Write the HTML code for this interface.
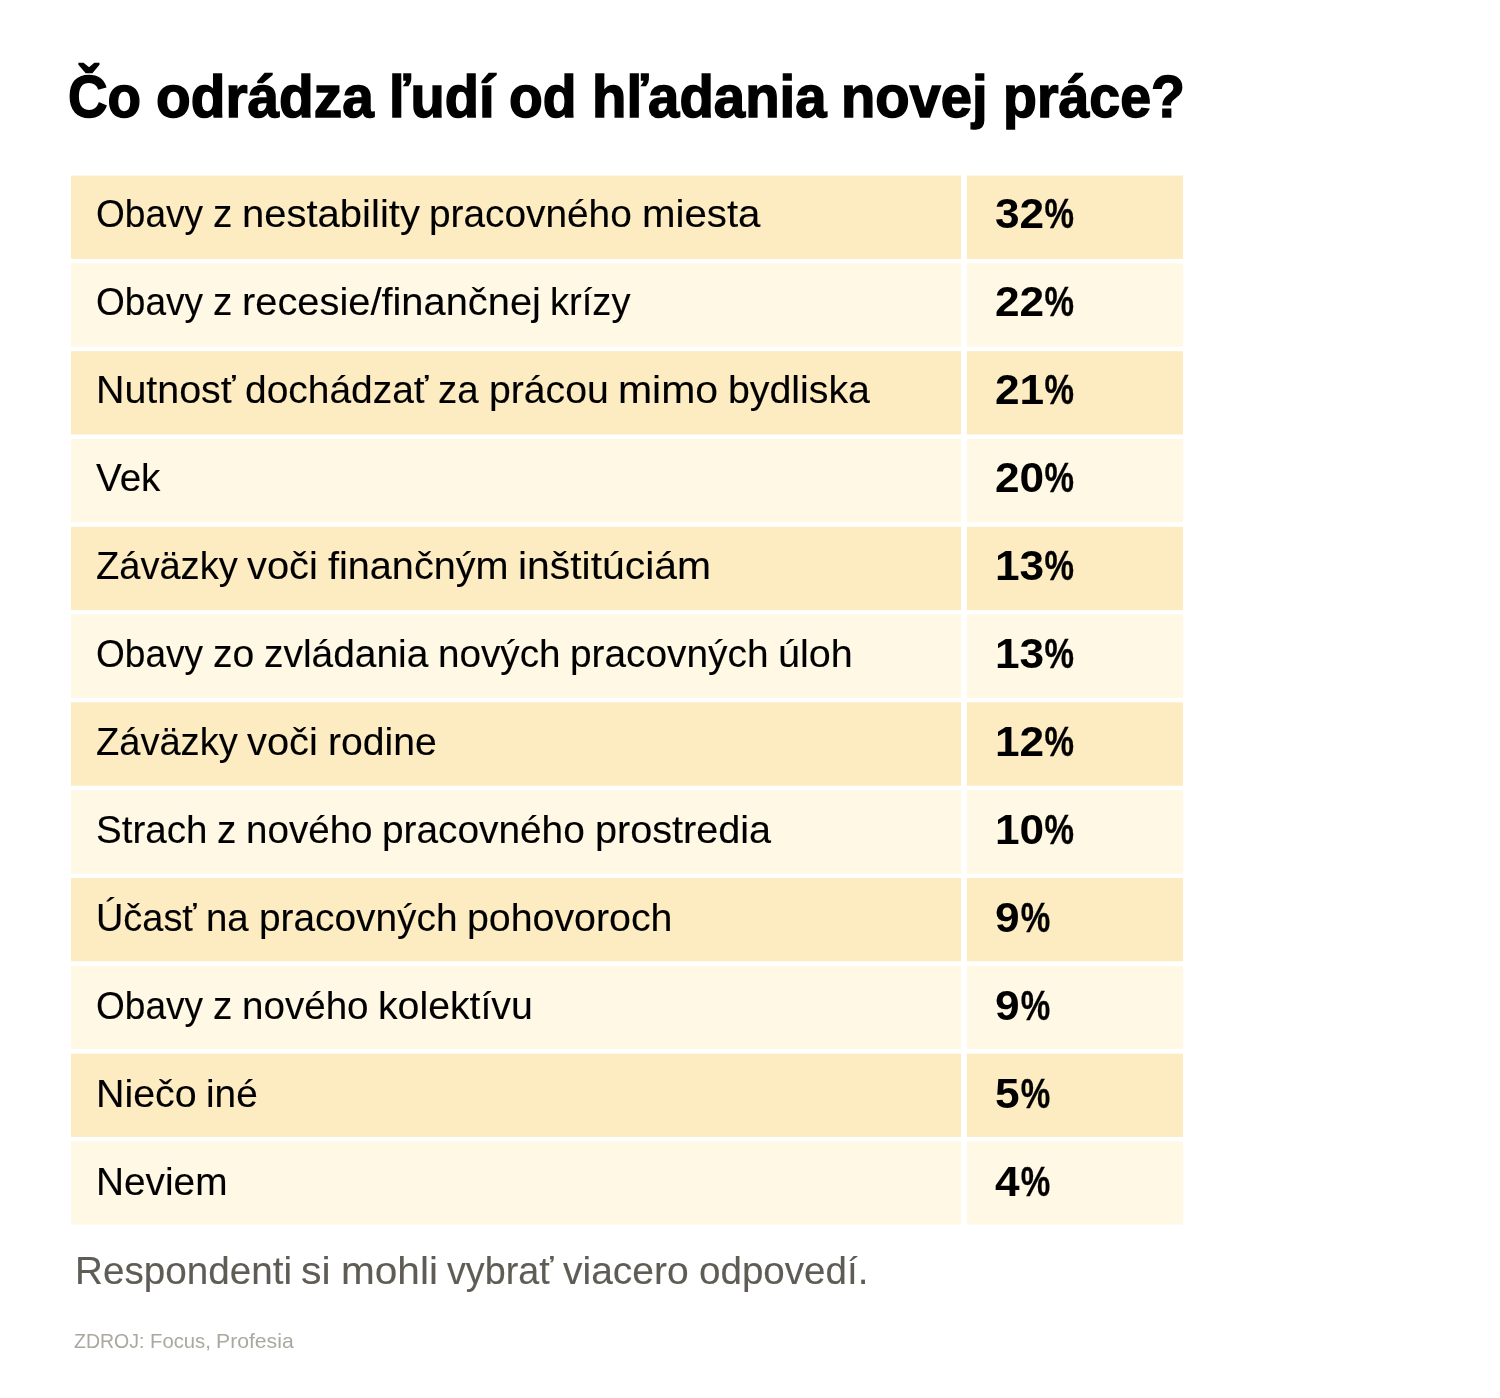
<!DOCTYPE html>
<html lang="sk">
<head>
<meta charset="utf-8">
<title>Čo odrádza ľudí od hľadania novej práce?</title>
<style>
html,body{margin:0;padding:0;background:#fff;}
body{width:1500px;height:1398px;position:relative;overflow:hidden;font-family:"Liberation Sans", Arial, Helvetica, sans-serif;color:#000;}
.t{position:absolute;white-space:nowrap;transform-origin:0 50%;margin:0;}
.bg{position:absolute;left:0;top:0;}
h1.t{font-weight:700;-webkit-text-stroke:1.5px #000;}
.lab{font-weight:400;-webkit-text-stroke:0.12px #000;}
.val{font-weight:700;}
.w{position:absolute;top:0;transform-origin:0 50%;white-space:nowrap;}
.pc{display:inline-block;transform-origin:0 50%;-webkit-text-stroke:0.35px #000;}
.note{color:#5f5c55;-webkit-text-stroke:0.12px #5f5c55;}
.src{color:#aaa89f;}

</style>
</head>
<body>
<h1 class="t " style="left:68px;top:37.11px;font-size:60px;line-height:120px;height:120px;"><span class="w" style="left:0px;transform:scaleX(0.9139)">Čo</span> <span class="w" style="left:88.04px;transform:scaleX(0.9465)">odrádza</span> <span class="w" style="left:320.71px;transform:scaleX(0.9339)">ľudí</span> <span class="w" style="left:441.27px;transform:scaleX(0.9205)">od</span> <span class="w" style="left:523.68px;transform:scaleX(0.9386)">hľadania</span> <span class="w" style="left:773.12px;transform:scaleX(0.9361)">novej</span> <span class="w" style="left:934.75px;transform:scaleX(0.925)">práce?</span></h1>
<svg class="bg" width="1500" height="1398" viewBox="0 0 1500 1398" aria-hidden="true">
<rect x="71" y="175.60" width="890.00" height="83.3" fill="#fdecc1"/><rect x="966.8" y="175.60" width="216.20" height="83.3" fill="#fdecc1"/>
<rect x="71" y="263.40" width="890.00" height="83.3" fill="#fff8e5"/><rect x="966.8" y="263.40" width="216.20" height="83.3" fill="#fff8e5"/>
<rect x="71" y="351.20" width="890.00" height="83.3" fill="#fdecc1"/><rect x="966.8" y="351.20" width="216.20" height="83.3" fill="#fdecc1"/>
<rect x="71" y="439.00" width="890.00" height="83.3" fill="#fff8e5"/><rect x="966.8" y="439.00" width="216.20" height="83.3" fill="#fff8e5"/>
<rect x="71" y="526.80" width="890.00" height="83.3" fill="#fdecc1"/><rect x="966.8" y="526.80" width="216.20" height="83.3" fill="#fdecc1"/>
<rect x="71" y="614.60" width="890.00" height="83.3" fill="#fff8e5"/><rect x="966.8" y="614.60" width="216.20" height="83.3" fill="#fff8e5"/>
<rect x="71" y="702.40" width="890.00" height="83.3" fill="#fdecc1"/><rect x="966.8" y="702.40" width="216.20" height="83.3" fill="#fdecc1"/>
<rect x="71" y="790.20" width="890.00" height="83.3" fill="#fff8e5"/><rect x="966.8" y="790.20" width="216.20" height="83.3" fill="#fff8e5"/>
<rect x="71" y="878.00" width="890.00" height="83.3" fill="#fdecc1"/><rect x="966.8" y="878.00" width="216.20" height="83.3" fill="#fdecc1"/>
<rect x="71" y="965.80" width="890.00" height="83.3" fill="#fff8e5"/><rect x="966.8" y="965.80" width="216.20" height="83.3" fill="#fff8e5"/>
<rect x="71" y="1053.60" width="890.00" height="83.3" fill="#fdecc1"/><rect x="966.8" y="1053.60" width="216.20" height="83.3" fill="#fdecc1"/>
<rect x="71" y="1141.40" width="890.00" height="83.3" fill="#fff8e5"/><rect x="966.8" y="1141.40" width="216.20" height="83.3" fill="#fff8e5"/>
</svg>
<div role="table" aria-label="Čo odrádza ľudí od hľadania novej práce?">
<div role="row">
<div class="t lab" role="cell" style="left:96px;top:174.06px;font-size:39.5px;line-height:79.0px;height:79.0px;"><span class="w" style="left:0px;transform:scaleX(0.9373)">Obavy</span> <span class="w" style="left:116.68px;transform:scaleX(0.9796)">z</span> <span class="w" style="left:145.7px;transform:scaleX(1.0127)">nestability</span> <span class="w" style="left:333.25px;transform:scaleX(0.9823)">pracovného</span> <span class="w" style="left:545.7px;transform:scaleX(1.0183)">miesta</span></div>
<div class="t val" role="cell" style="left:995.0px;top:170.25px;font-size:43px;line-height:86px;transform:scaleX(1.0287);">32<span class="pc" style="transform:scaleX(0.75);margin-left:0.02px;">%</span></div>
</div>
<div role="row">
<div class="t lab" role="cell" style="left:96px;top:262.06px;font-size:39.5px;line-height:79.0px;height:79.0px;"><span class="w" style="left:0px;transform:scaleX(0.9373)">Obavy</span> <span class="w" style="left:116.68px;transform:scaleX(0.9796)">z</span> <span class="w" style="left:145.7px;transform:scaleX(1.0083)">recesie/finančnej</span> <span class="w" style="left:454.25px;transform:scaleX(0.9647)">krízy</span></div>
<div class="t val" role="cell" style="left:995.0px;top:258.25px;font-size:43px;line-height:86px;transform:scaleX(1.0287);">22<span class="pc" style="transform:scaleX(0.75);margin-left:0.02px;">%</span></div>
</div>
<div role="row">
<div class="t lab" role="cell" style="left:96px;top:350.06px;font-size:39.5px;line-height:79.0px;height:79.0px;"><span class="w" style="left:0px;transform:scaleX(0.9967)">Nutnosť</span> <span class="w" style="left:149.18px;transform:scaleX(0.9855)">dochádzať</span> <span class="w" style="left:342.28px;transform:scaleX(0.9723)">za</span> <span class="w" style="left:392.51px;transform:scaleX(0.9913)">prácou</span> <span class="w" style="left:521.91px;transform:scaleX(1.037)">mimo</span> <span class="w" style="left:631.71px;transform:scaleX(0.9948)">bydliska</span></div>
<div class="t val" role="cell" style="left:995.0px;top:346.25px;font-size:43px;line-height:86px;transform:scaleX(1.0287);">21<span class="pc" style="transform:scaleX(0.75);margin-left:0.02px;">%</span></div>
</div>
<div role="row">
<div class="t lab" role="cell" style="left:96px;top:438.06px;font-size:39.5px;line-height:79.0px;height:79.0px;"><span class="w" style="left:0px;transform:scaleX(0.9781)">Vek</span></div>
<div class="t val" role="cell" style="left:995.0px;top:434.25px;font-size:43px;line-height:86px;transform:scaleX(1.0287);">20<span class="pc" style="transform:scaleX(0.75);margin-left:0.02px;">%</span></div>
</div>
<div role="row">
<div class="t lab" role="cell" style="left:96px;top:526.06px;font-size:39.5px;line-height:79.0px;height:79.0px;"><span class="w" style="left:0px;transform:scaleX(0.9634)">Záväzky</span> <span class="w" style="left:151.35px;transform:scaleX(1.0071)">voči</span> <span class="w" style="left:231.77px;transform:scaleX(1.0027)">finančným</span> <span class="w" style="left:421.95px;transform:scaleX(1.0342)">inštitúciám</span></div>
<div class="t val" role="cell" style="left:995.0px;top:522.25px;font-size:43px;line-height:86px;transform:scaleX(1.0287);">13<span class="pc" style="transform:scaleX(0.75);margin-left:0.02px;">%</span></div>
</div>
<div role="row">
<div class="t lab" role="cell" style="left:96px;top:614.06px;font-size:39.5px;line-height:79.0px;height:79.0px;"><span class="w" style="left:0px;transform:scaleX(0.9373)">Obavy</span> <span class="w" style="left:116.68px;transform:scaleX(0.9896)">zo</span> <span class="w" style="left:167.64px;transform:scaleX(0.9849)">zvládania</span> <span class="w" style="left:341.69px;transform:scaleX(0.9787)">nových</span> <span class="w" style="left:473.85px;transform:scaleX(0.9825)">pracovných</span> <span class="w" style="left:681.99px;transform:scaleX(1.0003)">úloh</span></div>
<div class="t val" role="cell" style="left:995.0px;top:610.25px;font-size:43px;line-height:86px;transform:scaleX(1.0287);">13<span class="pc" style="transform:scaleX(0.75);margin-left:0.02px;">%</span></div>
</div>
<div role="row">
<div class="t lab" role="cell" style="left:96px;top:702.06px;font-size:39.5px;line-height:79.0px;height:79.0px;"><span class="w" style="left:0px;transform:scaleX(0.9634)">Záväzky</span> <span class="w" style="left:151.35px;transform:scaleX(1.0071)">voči</span> <span class="w" style="left:231.77px;transform:scaleX(0.9906)">rodine</span></div>
<div class="t val" role="cell" style="left:995.0px;top:698.25px;font-size:43px;line-height:86px;transform:scaleX(1.0287);">12<span class="pc" style="transform:scaleX(0.75);margin-left:0.02px;">%</span></div>
</div>
<div role="row">
<div class="t lab" role="cell" style="left:96px;top:790.06px;font-size:39.5px;line-height:79.0px;height:79.0px;"><span class="w" style="left:0px;transform:scaleX(0.9765)">Strach</span> <span class="w" style="left:121.15px;transform:scaleX(0.9796)">z</span> <span class="w" style="left:150.17px;transform:scaleX(0.9765)">nového</span> <span class="w" style="left:286.39px;transform:scaleX(0.9823)">pracovného</span> <span class="w" style="left:498.83px;transform:scaleX(1.0025)">prostredia</span></div>
<div class="t val" role="cell" style="left:995.0px;top:786.25px;font-size:43px;line-height:86px;transform:scaleX(1.0287);">10<span class="pc" style="transform:scaleX(0.75);margin-left:0.02px;">%</span></div>
</div>
<div role="row">
<div class="t lab" role="cell" style="left:96px;top:878.06px;font-size:39.5px;line-height:79.0px;height:79.0px;"><span class="w" style="left:0px;transform:scaleX(0.9595)">Účasť</span> <span class="w" style="left:110.24px;transform:scaleX(0.973)">na</span> <span class="w" style="left:162.67px;transform:scaleX(0.9825)">pracovných</span> <span class="w" style="left:370.8px;transform:scaleX(0.995)">pohovoroch</span></div>
<div class="t val" role="cell" style="left:995.0px;top:874.25px;font-size:43px;line-height:86px;transform:scaleX(1.0287);">9<span class="pc" style="transform:scaleX(0.75);margin-left:0.95px;">%</span></div>
</div>
<div role="row">
<div class="t lab" role="cell" style="left:96px;top:966.06px;font-size:39.5px;line-height:79.0px;height:79.0px;"><span class="w" style="left:0px;transform:scaleX(0.9373)">Obavy</span> <span class="w" style="left:116.68px;transform:scaleX(0.9796)">z</span> <span class="w" style="left:145.7px;transform:scaleX(0.9765)">nového</span> <span class="w" style="left:281.91px;transform:scaleX(0.9927)">kolektívu</span></div>
<div class="t val" role="cell" style="left:995.0px;top:962.25px;font-size:43px;line-height:86px;transform:scaleX(1.0287);">9<span class="pc" style="transform:scaleX(0.75);margin-left:0.95px;">%</span></div>
</div>
<div role="row">
<div class="t lab" role="cell" style="left:96px;top:1054.06px;font-size:39.5px;line-height:79.0px;height:79.0px;"><span class="w" style="left:0px;transform:scaleX(0.9966)">Niečo</span> <span class="w" style="left:110.32px;transform:scaleX(0.9808)">iné</span></div>
<div class="t val" role="cell" style="left:995.0px;top:1050.25px;font-size:43px;line-height:86px;transform:scaleX(1.0287);">5<span class="pc" style="transform:scaleX(0.75);margin-left:0.95px;">%</span></div>
</div>
<div role="row">
<div class="t lab" role="cell" style="left:96px;top:1142.06px;font-size:39.5px;line-height:79.0px;height:79.0px;"><span class="w" style="left:0px;transform:scaleX(0.9822)">Neviem</span></div>
<div class="t val" role="cell" style="left:995.0px;top:1138.25px;font-size:43px;line-height:86px;transform:scaleX(1.0287);">4<span class="pc" style="transform:scaleX(0.75);margin-left:0.95px;">%</span></div>
</div>
</div>
<footer>
<div class="t note" style="left:74.6px;top:1230.61px;font-size:39.5px;line-height:79.0px;height:79.0px;"><span class="w" style="left:0px;transform:scaleX(0.9782)">Respondenti</span> <span class="w" style="left:226.65px;transform:scaleX(1.0381)">si</span> <span class="w" style="left:265.94px;transform:scaleX(1.0265)">mohli</span> <span class="w" style="left:372.5px;transform:scaleX(0.9554)">vybrať</span> <span class="w" style="left:488.6px;transform:scaleX(0.9876)">viacero</span> <span class="w" style="left:624.04px;transform:scaleX(0.976)">odpovedí.</span></div>
<div class="t src" style="left:74px;top:1319.72px;font-size:21px;line-height:42px;height:42px;"><span class="w" style="left:0px;transform:scaleX(0.9287)">ZDROJ:</span> <span class="w" style="left:75.63px;transform:scaleX(0.9665)">Focus,</span> <span class="w" style="left:141.75px;transform:scaleX(1.0085)">Profesia</span></div>
</footer>
</body>
</html>
